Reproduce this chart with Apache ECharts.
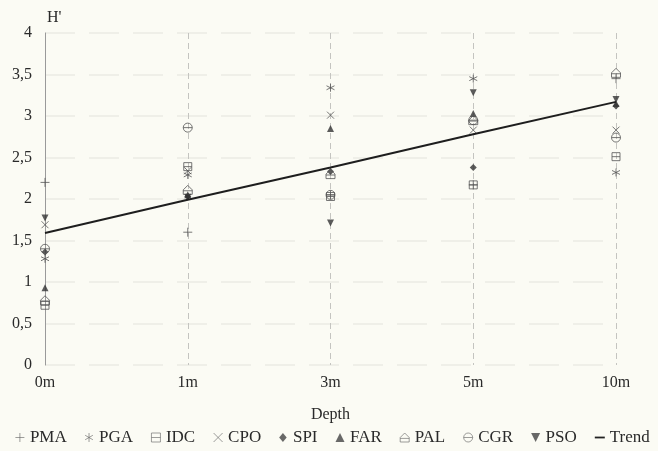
<!DOCTYPE html>
<html><head><meta charset="utf-8">
<script src="https://cdn.jsdelivr.net/npm/echarts@6/dist/echarts.min.js"></script>
<style>html,body{margin:0;padding:0;background:#fbfbf4;}#c{width:658px;height:451px;}</style>
</head><body><div id="c"></div>
<script>
const categories = ['0m','1m','3m','5m','10m'];
const yTicks = [0,0.5,1,1.5,2,2.5,3,3.5,4];
const PMA = [2.2, 1.6, 2.05, 2.17, 3.45];
const PGA = [1.28, 2.29, 3.34, 3.45, 2.32];
const IDC = [0.72, 2.39, 2.03, 2.17, 2.51];
const CPO = [1.69, 2.34, 3.01, 2.83, 2.83];
const SPI = [1.36, 2.03, 2.33, 2.38, 3.12];
const FAR = [0.93, 2.05, 2.85, 3.03, 3.15];
const PAL = [0.78, 2.11, 2.30, 2.95, 3.52];
const CGR = [1.40, 2.86, 2.05, 2.95, 2.74];
const PSO = [1.77, 2.02, 1.71, 3.28, 3.20];
const Trend = [1.59, 1.99, 2.38, 2.78, 3.17];

const sym = {
  PMA: 'path://M0,5L10,5M5,0L5,10',
  PGA: 'path://M5,0L5,10M0.7,2.5L9.3,7.5M0.7,7.5L9.3,2.5',
  IDC: 'path://M0,0L10,0L10,10L0,10ZM0,5L10,5',
  CPO: 'path://M0,0L10,10M0,10L10,0',
  SPI: 'path://M5,0L10,6L5,12L0,6Z',
  FAR: 'path://M5,0L10,10L0,10Z',
  PAL: 'path://M0,10L0,5L5,0L10,5L10,10ZM0,6L10,6',
  CGR: 'path://M5,0A5,5,0,1,1,5,10A5,5,0,1,1,5,0ZM0,5L10,5',
  PSO: 'path://M0,0L10,0L5,10Z'
};
const filled = {SPI:true, FAR:true, PSO:true};
const sizes = {PMA:9, PGA:8, IDC:8, CPO:7, SPI:7, FAR:7, PAL:9, CGR:9, PSO:7};
const dataMap = {PMA, PGA, IDC, CPO, SPI, FAR, PAL, CGR, PSO};
const order = ['PMA','PGA','IDC','CPO','SPI','FAR','PAL','CGR','PSO'];
const font = 'Liberation Serif';
const txt = '#2a2a2a';

const series = order.map(n => ({
  name: n, type: 'scatter', data: dataMap[n],
  symbol: sym[n], symbolSize: sizes[n],
  itemStyle: filled[n] ? {color:'#333'} : {color:'rgba(0,0,0,0)', borderColor:'#555', borderWidth:1},
  z: 3
}));
series.push({
  name: 'Trend', type: 'line', data: Trend, symbol: 'none',
  lineStyle: {color:'#1e1e1e', width:2}, itemStyle:{color:'#1e1e1e'}, z: 4
});

const legendData = order.map(n => ({
  name: n, icon: sym[n],
  itemStyle: filled[n] ? {color:'#444'} : {color:'rgba(0,0,0,0)', borderColor:'#666', borderWidth:0.8}
})).concat([{name:'Trend', icon:'path://M0,4L10,4L10,5.8L0,5.8Z', itemStyle:{color:'#222', borderWidth:0}}]);

const chart = echarts.init(document.getElementById('c'));
chart.setOption({
  backgroundColor: '#fbfbf4',
  animation: false,
  textStyle: {fontFamily: font},
  grid: {left:45, right:42, top:33, bottom:86},
  xAxis: {
    type: 'category', data: categories, boundaryGap: false,
    name: 'Depth', nameLocation: 'middle', nameGap: 42,
    nameTextStyle: {fontFamily: font, fontSize: 16, color: txt},
    axisLine: {show:false}, axisTick: {show:false},
    axisLabel: {fontFamily: font, fontSize: 16, color: txt, margin: 10},
    splitLine: {show:true, lineStyle:{color:'#c4c4c0', type:[6,4], width:1}}
  },
  yAxis: {
    type: 'value', min: 0, max: 4, interval: 0.5,
    name: "H'", nameLocation: 'end', nameGap: 7,
    nameTextStyle: {fontFamily: font, fontSize: 16, color: txt, align:'left', padding:[0,0,0,2]},
    axisLine: {show:true, lineStyle:{color:'#9a9a9a'}}, axisTick:{show:false},
    axisLabel: {fontFamily: font, fontSize: 16, color: txt, margin: 13,
      formatter: v => yTicks.includes(v) ? String(v).replace('.', ',') : ''},
    splitLine: {show:true, lineStyle:{color:'#ebebe3', type:[30,14], width:1.5}}
  },
  legend: {
    bottom: 0, left: 15, width: 642, padding: [5, 0, 5, 0], itemGap: 18, itemWidth: 10, itemHeight: 9,
    textStyle: {fontFamily: font, fontSize: 17, color: txt},
    data: legendData
  },
  series: series
});
</script></body></html>
